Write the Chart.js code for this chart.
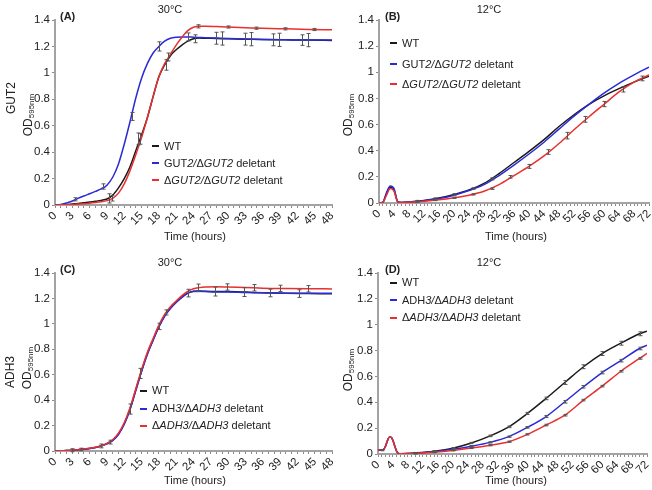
<!DOCTYPE html>
<html><head><meta charset="utf-8">
<script src="https://cdn.jsdelivr.net/npm/chart.js@4.4.1/dist/chart.umd.min.js"></script>
<style>
body{margin:0;background:#fff;width:652px;height:490px;position:relative;overflow:hidden;font-family:"Liberation Sans",Arial,sans-serif;color:#222}
canvas{position:absolute}
.c{position:absolute;transform:translate(-50%,-50%);white-space:nowrap;font-size:11px}
.lab{position:absolute;transform:translateY(-50%);white-space:nowrap;font-size:11px;font-weight:bold}
.yt{position:absolute;transform:translate(-50%,-50%) rotate(-90deg);white-space:nowrap;font-size:12px}
.yt sub{font-size:8px;vertical-align:-2px}
.leg{position:absolute;font-size:11px;white-space:nowrap}
.leg div{display:flex;align-items:center}
.mk{display:inline-block;width:7px;height:2px;margin-right:5px}
</style></head><body>
<canvas id="cA" width="340" height="245" style="left:0;top:0"></canvas>
<canvas id="cB" width="312" height="245" style="left:340px;top:0"></canvas>
<canvas id="cC" width="340" height="245" style="left:0;top:245px"></canvas>
<canvas id="cD" width="312" height="245" style="left:340px;top:245px"></canvas>

<div class="c" style="left:170px;top:9px">30°C</div>
<div class="c" style="left:489px;top:9px">12°C</div>
<div class="c" style="left:170px;top:262px">30°C</div>
<div class="c" style="left:489px;top:262px">12°C</div>
<div class="lab" style="left:60px;top:16px">(A)</div>
<div class="lab" style="left:385px;top:16px">(B)</div>
<div class="lab" style="left:60px;top:269px">(C)</div>
<div class="lab" style="left:385px;top:269px">(D)</div>
<div class="c" style="left:195px;top:236px">Time (hours)</div>
<div class="c" style="left:516px;top:236px">Time (hours)</div>
<div class="c" style="left:195px;top:480px">Time (hours)</div>
<div class="c" style="left:516px;top:480px">Time (hours)</div>
<div class="yt" style="left:11px;top:98px">GUT2</div>
<div class="yt" style="left:28px;top:115px">OD<sub>595nm</sub></div>
<div class="yt" style="left:348px;top:115px">OD<sub>595nm</sub></div>
<div class="yt" style="left:10px;top:372px">ADH3</div>
<div class="yt" style="left:27px;top:368px">OD<sub>595nm</sub></div>
<div class="yt" style="left:348px;top:370px">OD<sub>595nm</sub></div>

<div class="leg" style="left:152px;top:137.5px;line-height:17px">
<div><span class="mk" style="background:#1a1a1a"></span>WT</div>
<div><span class="mk" style="background:#2a2ad6"></span>GUT<i>2/</i>Δ<i>GUT2</i>&nbsp;deletant</div>
<div><span class="mk" style="background:#e8302f"></span>Δ<i>GUT2/</i>Δ<i>GUT2</i>&nbsp;deletant</div>
</div>
<div class="leg" style="left:390px;top:33px;line-height:20.5px">
<div><span class="mk" style="background:#1a1a1a"></span>WT</div>
<div><span class="mk" style="background:#2a2ad6"></span>GUT<i>2/</i>Δ<i>GUT2</i>&nbsp;deletant</div>
<div><span class="mk" style="background:#e8302f"></span>Δ<i>GUT2/</i>Δ<i>GUT2</i>&nbsp;deletant</div>
</div>
<div class="leg" style="left:140px;top:382px;line-height:17.7px">
<div><span class="mk" style="background:#1a1a1a"></span>WT</div>
<div><span class="mk" style="background:#2a2ad6"></span>ADH<i>3/</i>Δ<i>ADH3</i>&nbsp;deletant</div>
<div><span class="mk" style="background:#e8302f"></span>Δ<i>ADH3/</i>Δ<i>ADH3</i>&nbsp;deletant</div>
</div>
<div class="leg" style="left:390px;top:274px;line-height:17.5px">
<div><span class="mk" style="background:#1a1a1a"></span>WT</div>
<div><span class="mk" style="background:#2a2ad6"></span>ADH<i>3/</i>Δ<i>ADH3</i>&nbsp;deletant</div>
<div><span class="mk" style="background:#e8302f"></span>Δ<i>ADH3/</i>Δ<i>ADH3</i>&nbsp;deletant</div>
</div>

<script>
// ---------- Panel A: GUT2, 30°C ----------
const timeA = [0,1,2,3,4,5,6,7,8,9,10,11,12,13,14,15,16,17,18,19,20,21,22,23,24,25,26,28,30,33,36,40,44,48];
const wtA   = [0,0.002,0.004,0.008,0.012,0.017,0.022,0.028,0.035,0.045, 0.075,0.13,0.2,0.29,0.41,0.53,0.66,0.82,0.97,1.06, 1.13,1.175,1.21,1.24,1.258,1.263,1.262, 1.26,1.258,1.255,1.252,1.25,1.248,1.245];
const gutA  = [0,0.003,0.015,0.03,0.05,0.068,0.085,0.103,0.122,0.15, 0.21,0.31,0.46,0.63,0.81,0.96,1.07,1.15,1.2,1.24, 1.262,1.27,1.272,1.272,1.27,1.268,1.266, 1.263,1.26,1.256,1.253,1.25,1.248,1.248];
const delA  = [0,0.001,0.002,0.004,0.007,0.01,0.014,0.019,0.025,0.033, 0.05,0.09,0.16,0.26,0.38,0.51,0.66,0.82,0.97,1.07, 1.14,1.21,1.27,1.32,1.345,1.352,1.352, 1.35,1.347,1.342,1.337,1.333,1.329,1.326];
const errWtA  = {t:[9.4,14.4,19.2,24.2,28.9,33.9,38.9,43.8], y:[0.05,0.5,1.06,1.258,1.26,1.255,1.25,1.248], e:[0.035,0.045,0.04,0.03,0.05,0.05,0.05,0.05]};
const errGutA = {t:[3.5,8.4,13.3,18.1,23.1,27.9,32.9,37.8,42.8], y:[0.043,0.14,0.67,1.2,1.272,1.262,1.255,1.25,1.248], e:[0.012,0.02,0.03,0.035,0.03,0.045,0.045,0.045,0.04]};
const errDelA = {t:[9.9,14.7,19.6,24.8,29.9,34.9,39.9,44.8], y:[0.05,0.5,1.12,1.352,1.347,1.338,1.333,1.328], e:[0.02,0.04,0.03,0.012,0.008,0.008,0.008,0.008]};

// ---------- Panel B: GUT2, 12°C ----------
const timeB = [0,1,2,3,4,5,6,8,12,16,20,24,28,32,36,40,44,48,52,56,60,64,68,72];
const wtB   = [0,0.005,0.07,0.12,0.1,0.01,0.004,0.008, 0.02,0.038,0.065,0.1,0.15,0.225,0.31,0.395, 0.485,0.585,0.675,0.755,0.82,0.875,0.925,0.97];
const gutB  = [0,0.005,0.08,0.13,0.11,0.01,0.004,0.008, 0.018,0.034,0.06,0.095,0.14,0.21,0.29,0.375, 0.465,0.565,0.665,0.755,0.84,0.915,0.98,1.04];
const delB  = [0,0.004,0.06,0.11,0.09,0.008,0.003,0.006, 0.013,0.024,0.04,0.06,0.09,0.14,0.21,0.28, 0.36,0.455,0.56,0.66,0.755,0.85,0.925,0.98];
const errWtB  = {t:[10,15,20,25,30], y:[0.014,0.033,0.065,0.11,0.185], e:[0.006,0.006,0.006,0.006,0.008]};
const errDelB = {t:[10,15,20,25,30,35,40,45,50,55,60,65,70], y:[0.01,0.022,0.04,0.066,0.11,0.2,0.28,0.39,0.515,0.64,0.757,0.869,0.953], e:[0.004,0.004,0.005,0.005,0.006,0.01,0.015,0.018,0.025,0.022,0.02,0.02,0.018]};

// ---------- Panel C: ADH3, 30°C ----------
const timeC = [0,1,2,3,4,5,6,7,8,9,10,11,12,13,14,15,16,17,18,19,20,21,22,23,24,25,26,28,30,33,36,40,44,48];
const wtC   = [0,0.001,0.003,0.006,0.01,0.015,0.02,0.028,0.04,0.058, 0.085,0.135,0.215,0.33,0.48,0.63,0.765,0.875,0.98,1.065, 1.125,1.172,1.212,1.242,1.256,1.258,1.256, 1.254,1.254,1.25,1.245,1.24,1.238,1.236];
const adhC  = [0,0.001,0.003,0.006,0.01,0.014,0.02,0.027,0.039,0.056, 0.082,0.13,0.21,0.325,0.475,0.625,0.76,0.87,0.975,1.06, 1.12,1.168,1.208,1.24,1.254,1.256,1.254, 1.25,1.25,1.246,1.244,1.24,1.24,1.24];
const delC  = [0,0.001,0.003,0.006,0.01,0.015,0.021,0.029,0.041,0.06, 0.088,0.14,0.222,0.34,0.49,0.64,0.775,0.885,0.99,1.075, 1.135,1.18,1.222,1.255,1.276,1.285,1.29, 1.292,1.29,1.286,1.281,1.278,1.276,1.275];
const errWtC  = {t:[3,8,13,18,23,27.8,32.8,37.3,42.2], y:[0.006,0.04,0.33,0.98,1.242,1.254,1.25,1.243,1.238], e:[0.012,0.015,0.04,0.025,0.03,0.035,0.035,0.03,0.03]};
const errDelC = {t:[4.5,9.5,14.8,19.3,24.8,29.8,34.4,39,43.9], y:[0.012,0.07,0.61,1.09,1.283,1.29,1.284,1.279,1.276], e:[0.01,0.015,0.04,0.02,0.03,0.025,0.025,0.025,0.025]};

// ---------- Panel D: ADH3, 12°C ----------
const timeD = [0,1,1.5,2,2.5,3,3.5,4,4.5,5,5.5,6,8,10,15,20,25,30,35,40,45,50,55,60,65,70,72];
const wtD   = [0.03,0.03,0.035,0.06,0.1,0.13,0.13,0.105,0.06,0.02,0.004,0.002, 0.004,0.008,0.022,0.045,0.085,0.14,0.21,0.314,0.43,0.553,0.675,0.777,0.857,0.93,0.95];
const adhD  = [0.03,0.03,0.035,0.06,0.1,0.13,0.13,0.105,0.06,0.02,0.004,0.002, 0.003,0.006,0.018,0.036,0.06,0.09,0.134,0.206,0.29,0.404,0.52,0.63,0.722,0.816,0.842];
const delD  = [0.03,0.03,0.035,0.06,0.1,0.13,0.13,0.105,0.06,0.02,0.004,0.002, 0.003,0.005,0.014,0.028,0.046,0.068,0.095,0.152,0.224,0.30,0.417,0.525,0.64,0.739,0.778];
const errWtD  = {t:[1,10,15,20,25,30,35,40,45,50,55,60,65,70], y:[0.03,0.008,0.022,0.045,0.085,0.14,0.21,0.314,0.43,0.553,0.675,0.777,0.857,0.93], e:[0.005,0.004,0.004,0.005,0.005,0.006,0.006,0.008,0.01,0.015,0.015,0.015,0.015,0.015]};
const errAdhD = {t:[10,15,20,25,30,35,40,45,50,55,60,65,70], y:[0.006,0.018,0.036,0.06,0.09,0.134,0.206,0.29,0.404,0.52,0.63,0.722,0.816], e:[0.004,0.004,0.004,0.005,0.005,0.005,0.006,0.008,0.01,0.01,0.01,0.01,0.01]};
const errDelD = {t:[10,15,20,25,30,35,40,45,50,55,60,65,70], y:[0.005,0.014,0.028,0.046,0.068,0.095,0.152,0.224,0.30,0.417,0.525,0.64,0.739], e:[0.004,0.004,0.004,0.004,0.005,0.005,0.005,0.006,0.006,0.006,0.006,0.006,0.006]};

const yTicks = [0,0.2,0.4,0.6,0.8,1,1.2,1.4];

const COL = {wt:'#1a1a1a', mut:'#2a2ad6', del:'#e8302f', err:'#555', axis:'#a3a3a3', tick:'#8a8a8a', text:'#222'};
const FONT = '"Liberation Sans", Arial, sans-serif';

function pts(ts, ys){ return ts.map((t,i)=>({x:t, y:ys[i]})); }

function errPlugin(sets){
  return {
    id:'errbars',
    afterDatasetsDraw(chart){
      const {ctx, scales:{x, y}} = chart;
      ctx.save();
      ctx.strokeStyle = COL.err; ctx.lineWidth = 1;
      sets.forEach(s => s.t.forEach((t,i) => {
        const px = Math.round(x.getPixelForValue(t)) + 0.5;
        const p1 = y.getPixelForValue(s.y[i] - s.e[i]);
        const p2 = y.getPixelForValue(s.y[i] + s.e[i]);
        ctx.beginPath();
        ctx.moveTo(px, p1); ctx.lineTo(px, p2);
        ctx.moveTo(px-2, p1); ctx.lineTo(px+2, p1);
        ctx.moveTo(px-2, p2); ctx.lineTo(px+2, p2);
        ctx.stroke();
      }));
      ctx.restore();
    }
  };
}

function makeChart(id, cfg){
  const xTicks = [];
  for (let v = 0; v <= cfg.xmax; v++) xTicks.push(v);
  const ds = (data, color, order) => ({data, borderColor:color, backgroundColor:color, borderWidth:1.5,
    pointRadius:0, cubicInterpolationMode:'monotone', fill:false, order});
  new Chart(document.getElementById(id), {
    type:'line',
    data:{datasets:[
      ds(pts(cfg.t, cfg.wt), COL.wt, 3),
      ds(pts(cfg.t, cfg.mut), COL.mut, 2),
      ds(pts(cfg.t, cfg.del), COL.del, 1)
    ]},
    options:{
      responsive:false, animation:false, devicePixelRatio:1,
      layout:{padding:{left:0, top:cfg.top, right:cfg.right, bottom:0}},
      plugins:{legend:{display:false}, tooltip:{enabled:false}},
      scales:{
        x:{type:'linear', min:0, max:cfg.xmax,
          afterBuildTicks:s=>{ s.ticks = xTicks.map(v=>({value:v})); },
          ticks:{autoSkip:false, minRotation:45, maxRotation:45, padding:1, color:COL.text,
            font:{family:FONT, size:11.5},
            callback:v => (v % cfg.step === 0 ? String(v) : '')},
          grid:{drawOnChartArea:false, drawTicks:true, tickLength:3, color:COL.tick, lineWidth:1},
          border:{display:true, color:COL.axis, width:2},
          afterFit:s=>{ s.height = cfg.xh; s.paddingLeft = 0; s.paddingRight = 0; }
        },
        y:{min:0, max:1.4,
          afterBuildTicks:s=>{ s.ticks = yTicks.map(v=>({value:v})); },
          ticks:{padding:2, color:COL.text, font:{family:FONT, size:11.5},
            callback:v => String(Math.round(v*10)/10)},
          grid:{drawOnChartArea:false, drawTicks:true, tickLength:3, color:COL.tick, lineWidth:1},
          border:{display:true, color:COL.axis, width:2},
          afterFit:s=>{ s.width = cfg.yw; s.paddingTop = 0; s.paddingBottom = 0; }
        }
      }
    },
    plugins:[errPlugin(cfg.err)]
  });
}

makeChart('cA', {t:timeA, wt:wtA, mut:gutA, del:delA, err:[errWtA, errGutA, errDelA], xmax:48, step:3, top:20, right:8, yw:55, xh:40});
makeChart('cB', {t:timeB, wt:wtB, mut:gutB, del:delB, err:[errWtB, errDelB], xmax:72, step:4, top:20, right:3, yw:39, xh:42});
makeChart('cC', {t:timeC, wt:wtC, mut:adhC, del:delC, err:[errWtC, errDelC], xmax:48, step:3, top:28, right:8, yw:55, xh:39});
makeChart('cD', {t:timeD, wt:wtD, mut:adhD, del:delD, err:[errWtD, errAdhD, errDelD], xmax:72, step:4, top:28, right:5, yw:38, xh:36});
</script>
</body></html>
